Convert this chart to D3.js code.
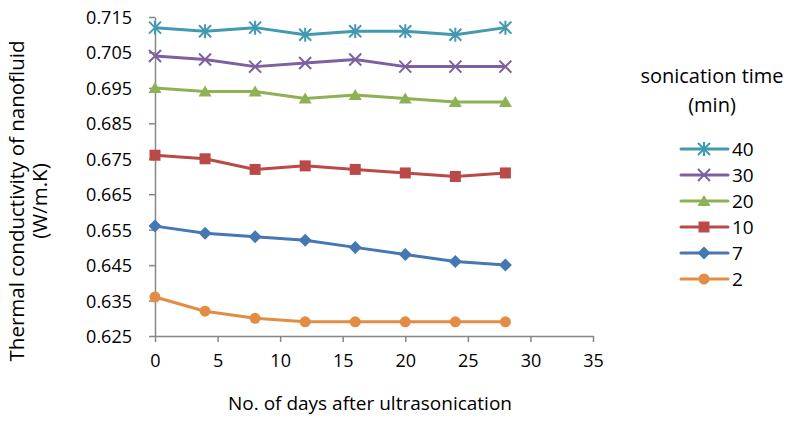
<!DOCTYPE html>
<html><head><meta charset="utf-8">
<script src="https://cdnjs.cloudflare.com/ajax/libs/d3/7.8.5/d3.min.js"></script>
<style>body{margin:0;background:#fff}svg{display:block}text{font-family:"Open Sans","Noto Sans",sans-serif}</style>
</head><body><svg id="c" width="793" height="421"></svg>
<script>
const days = [0, 4, 8, 12, 16, 20, 24, 28];
const seriesNames = ["40", "30", "20", "10", "7", "2"];
const s40 = [0.712, 0.711, 0.712, 0.710, 0.711, 0.711, 0.710, 0.712];
const s30 = [0.704, 0.703, 0.701, 0.702, 0.703, 0.701, 0.701, 0.701];
const s20 = [0.695, 0.694, 0.694, 0.692, 0.693, 0.692, 0.691, 0.691];
const s10 = [0.676, 0.675, 0.672, 0.673, 0.672, 0.671, 0.670, 0.671];
const s7 = [0.656, 0.654, 0.653, 0.652, 0.650, 0.648, 0.646, 0.645];
const s2 = [0.636, 0.632, 0.630, 0.629, 0.629, 0.629, 0.629, 0.629];
const yTicks = [0.625, 0.635, 0.645, 0.655, 0.665, 0.675, 0.685, 0.695, 0.705, 0.715];
const xTicks = [0, 5, 10, 15, 20, 25, 30, 35];
const colors = ["#4299B0", "#7C60A0", "#8DB153", "#B94A47", "#4577B3", "#E38D44"];
const markers = ["asterisk", "x", "triangle", "square", "diamond", "circle"];
const values = [s40, s30, s20, s10, s7, s2];

const svg = d3.select("#c");
const x = d3.scaleLinear().domain([0, 35]).range([155, 593]);
const y = d3.scaleLinear().domain([0.625, 0.715]).range([336, 17]);
const axisColor = "#878787";
const FONT = '"Open Sans","Noto Sans",sans-serif';

const xa = svg.append("g").attr("transform", "translate(0,336)")
  .call(d3.axisBottom(x).tickValues(xTicks).tickSize(6).tickSizeOuter(0).tickPadding(8).tickFormat(d3.format("d")));
const ya = svg.append("g").attr("transform", "translate(155,0)")
  .call(d3.axisLeft(y).tickValues(yTicks).tickSize(6).tickSizeOuter(0).tickPadding(17).tickFormat(d3.format(".3f")));
[xa, ya].forEach(a => {
  a.selectAll("path,line").attr("stroke", axisColor).attr("stroke-width", 1.5);
  a.selectAll("text").attr("fill", "#000").style("font-size", "18px").style("font-family", FONT);
});
xa.selectAll("text").attr("y", 31).attr("dy", "0");
ya.selectAll("text").attr("dy", "0.36em");

function drawMarker(g, type, color, cx, cy) {
  if (type === "asterisk") {
    const r = 6;
    g.append("path").attr("d", `M${cx-r},${cy-r}L${cx+r},${cy+r}M${cx-r},${cy+r}L${cx+r},${cy-r}M${cx},${cy-r-1}L${cx},${cy+r+1}`)
      .attr("stroke", color).attr("stroke-width", 2).attr("fill", "none");
  } else if (type === "x") {
    const r = 6;
    g.append("path").attr("d", `M${cx-r},${cy-r}L${cx+r},${cy+r}M${cx-r},${cy+r}L${cx+r},${cy-r}`)
      .attr("stroke", color).attr("stroke-width", 2).attr("fill", "none");
  } else if (type === "triangle") {
    g.append("path").attr("d", `M${cx},${cy-6}L${cx+6.5},${cy+5}L${cx-6.5},${cy+5}Z`).attr("fill", color);
  } else if (type === "square") {
    g.append("rect").attr("x", cx-5.5).attr("y", cy-5.5).attr("width", 11).attr("height", 11).attr("fill", color);
  } else if (type === "diamond") {
    g.append("path").attr("d", `M${cx},${cy-6.5}L${cx+6.5},${cy}L${cx},${cy+6.5}L${cx-6.5},${cy}Z`).attr("fill", color);
  } else {
    g.append("circle").attr("cx", cx).attr("cy", cy).attr("r", 5.5).attr("fill", color);
  }
}

const line = d3.line().x((d, i) => x(days[i])).y(d => y(d));
values.forEach((vals, si) => {
  const g = svg.append("g");
  g.append("path").attr("d", line(vals)).attr("fill", "none").attr("stroke", colors[si]).attr("stroke-width", 3).attr("stroke-linejoin", "round");
  vals.forEach((v, i) => drawMarker(g, markers[si], colors[si], x(days[i]), y(v)));
});

// y label
svg.append("text").attr("transform", "translate(24,201) rotate(-90)").attr("text-anchor", "middle").style("font-size", "20.5px").text("Thermal conductivity of nanofluid");
svg.append("text").attr("transform", "translate(47,201) rotate(-90)").attr("text-anchor", "middle").style("font-size", "20.5px").text("(W/m.K)");

// x label
svg.append("text").attr("x", 370).attr("y", 410).attr("text-anchor", "middle").style("font-size", "19px").text("No. of days after ultrasonication");

// legend
svg.append("text").attr("x", 712).attr("y", 83).attr("text-anchor", "middle").style("font-size", "20px").text("sonication time");
svg.append("text").attr("x", 712).attr("y", 112).attr("text-anchor", "middle").style("font-size", "20px").text("(min)");
seriesNames.forEach((n, i) => {
  const ly = 149 + i * 26;
  const g = svg.append("g");
  g.append("line").attr("x1", 681).attr("x2", 728).attr("y1", ly).attr("y2", ly).attr("stroke", colors[i]).attr("stroke-width", 3).attr("stroke-linecap", "round");
  drawMarker(g, markers[i], colors[i], 704, ly);
  g.append("text").attr("x", 732).attr("y", ly).attr("dy", "0.36em").style("font-size", "19px").text(n);
});
</script></body></html>
